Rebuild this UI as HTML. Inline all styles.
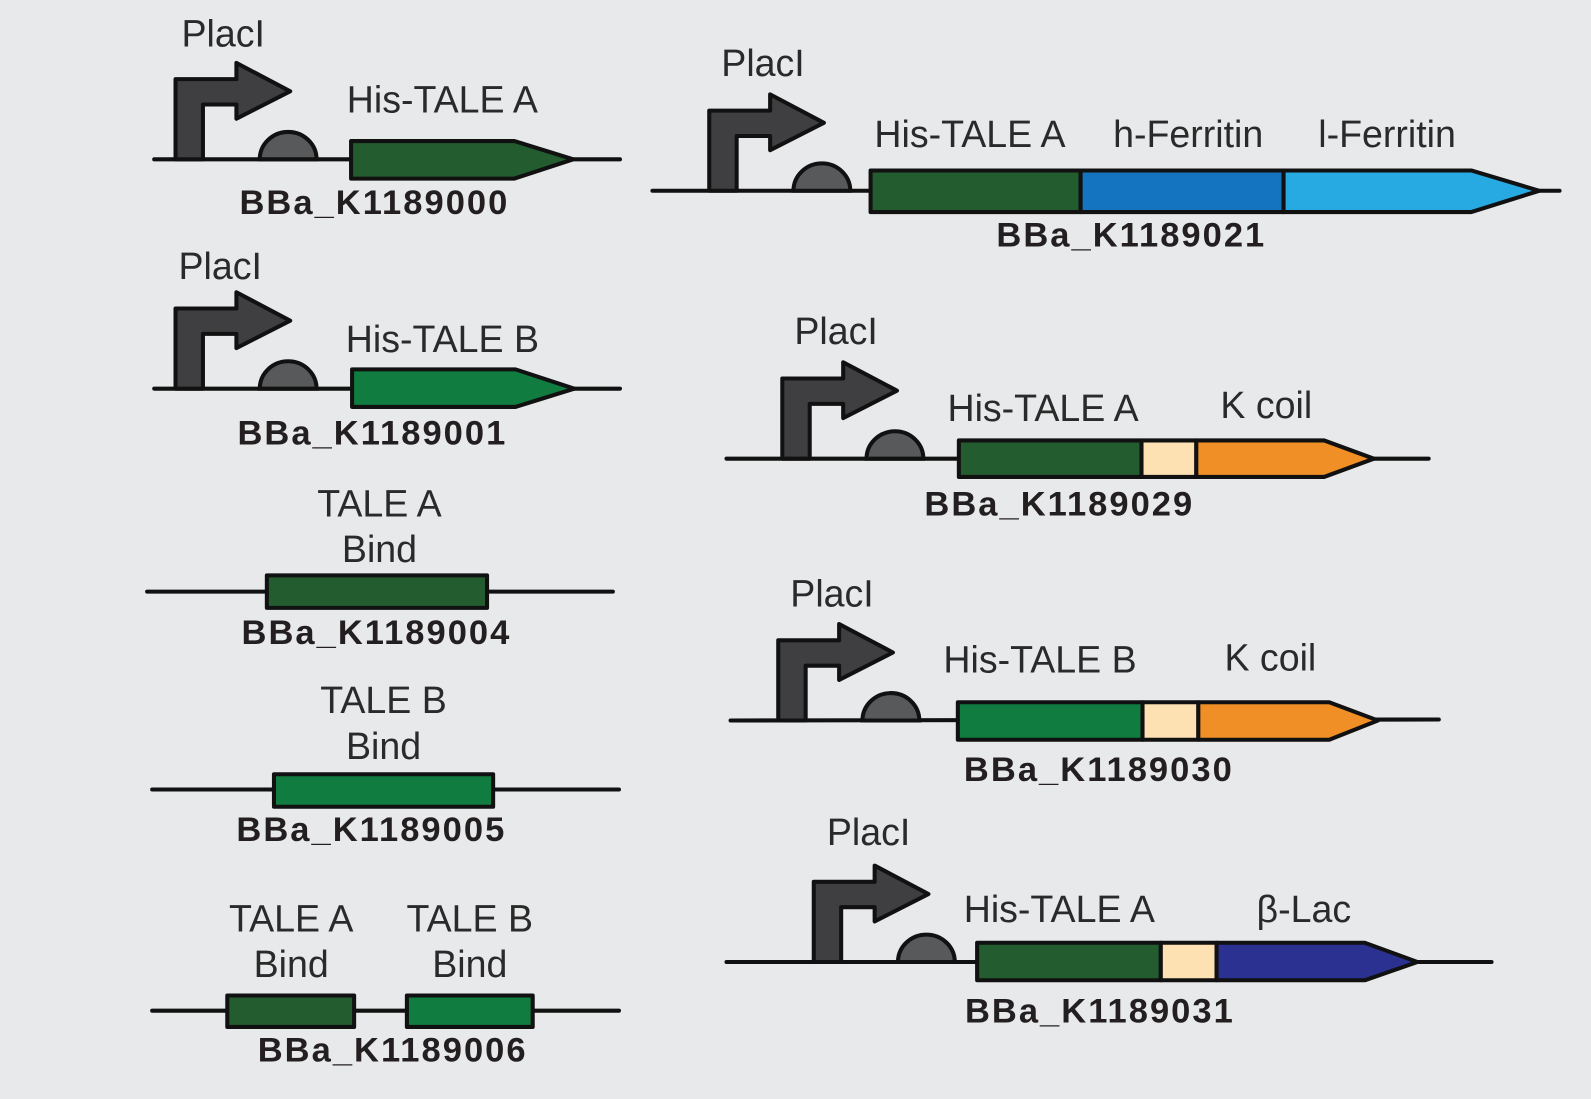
<!DOCTYPE html>
<html><head><meta charset="utf-8"><style>
html,body{margin:0;padding:0;background:#e8e9ea;}
svg{display:block;}
text{font-family:"Liberation Sans",sans-serif;fill:#2a2a2a;dominant-baseline:central;text-anchor:middle;}
.l{font-size:37px;}
.b{font-size:34px;font-weight:bold;fill:#231f20;letter-spacing:2px;}
</style></head><body>
<svg width="1591" height="1099" viewBox="0 0 1568 1083" preserveAspectRatio="none" xmlns="http://www.w3.org/2000/svg">
<defs>
<path id="pro" d="M0,0 V-79 H60 V-95 L113,-67 L60,-40 V-54 H27 V0 Z" fill="#3f3f41" stroke="#111" stroke-width="4" stroke-linejoin="round"/>
<path id="rbs" d="M-28,0 A28,27 0 0 1 28,0 Z" fill="#58595b" stroke="#111" stroke-width="4"/>
</defs>
<rect width="1568" height="1083" fill="#e8e9ea"/>
<g stroke="#111" stroke-width="4" stroke-linejoin="round" stroke-linecap="round">
<line x1="152" y1="157" x2="611" y2="157"/>
<path d="M346,139 H507 L565,157 L507,176 H346 Z" fill="#225c2f"/>
<line x1="152" y1="383" x2="611" y2="383"/>
<path d="M347,364 H508 L566,383 L508,401 H347 Z" fill="#107c3f"/>
<line x1="145" y1="583" x2="604" y2="583"/>
<rect x="263" y="567" width="217" height="32" fill="#225c2f"/>
<line x1="150" y1="778" x2="610" y2="778"/>
<rect x="270" y="763" width="216" height="32" fill="#107c3f"/>
<line x1="150" y1="996" x2="610" y2="996"/>
<rect x="224" y="981" width="125" height="31" fill="#225c2f"/>
<rect x="401" y="981" width="124" height="31" fill="#107c3f"/>
<line x1="643" y1="188" x2="1537" y2="188"/>
<rect x="858" y="168" width="207" height="41" fill="#225c2f"/>
<rect x="1065" y="168" width="200" height="41" fill="#1474bf"/>
<path d="M1265,168 H1450 L1517,188 L1450,209 H1265 Z" fill="#27a9e1"/>
<line x1="716" y1="452" x2="1408" y2="452"/>
<rect x="945" y="434" width="180" height="36" fill="#225c2f"/>
<rect x="1125" y="434" width="54" height="36" fill="#fde1b2"/>
<path d="M1179,434 H1305 L1354,452 L1305,470 H1179 Z" fill="#ef8f25"/>
<line x1="720" y1="710" x2="1418" y2="709"/>
<rect x="944" y="692" width="182" height="37" fill="#107c3f"/>
<rect x="1126" y="692" width="55" height="37" fill="#fde1b2"/>
<path d="M1181,692 H1310 L1358,710 L1310,729 H1181 Z" fill="#ef8f25"/>
<line x1="716" y1="948" x2="1470" y2="948"/>
<rect x="963" y="929" width="181" height="37" fill="#225c2f"/>
<rect x="1144" y="929" width="55" height="37" fill="#fde1b2"/>
<path d="M1199,929 H1345 L1397,948 L1345,966 H1199 Z" fill="#2b3190"/>
</g>
<use href="#pro" x="173" y="157"/><use href="#rbs" x="284" y="157"/>
<use href="#pro" x="173" y="383"/><use href="#rbs" x="284" y="383"/>
<use href="#pro" x="699" y="188"/><use href="#rbs" x="810" y="188"/>
<use href="#pro" x="771" y="452"/><use href="#rbs" x="882" y="452"/>
<use href="#pro" x="767" y="710"/><use href="#rbs" x="878" y="710"/>
<use href="#pro" x="802" y="948"/><use href="#rbs" x="913" y="948"/>

<text class="l" x="220" y="33">PlacI</text>
<text class="l" x="436" y="98">His-TALE A</text>
<text class="b" x="369" y="200">BBa_K1189000</text>

<text class="l" x="217" y="262">PlacI</text>
<text class="l" x="436" y="334">His-TALE B</text>
<text class="b" x="367" y="427">BBa_K1189001</text>

<text class="l" x="374" y="496">TALE A</text>
<text class="l" x="374" y="541">Bind</text>
<text class="b" x="371" y="624">BBa_K1189004</text>

<text class="l" x="378" y="690">TALE B</text>
<text class="l" x="378" y="735">Bind</text>
<text class="b" x="366" y="818">BBa_K1189005</text>

<text class="l" x="287" y="905">TALE A</text>
<text class="l" x="287" y="950">Bind</text>
<text class="l" x="463" y="905">TALE B</text>
<text class="l" x="463" y="950">Bind</text>
<text class="b" x="387" y="1035">BBa_K1189006</text>

<text class="l" x="752" y="62">PlacI</text>
<text class="l" x="956" y="132">His-TALE A</text>
<text class="l" x="1171" y="132">h-Ferritin</text>
<text class="l" x="1367" y="132">l-Ferritin</text>
<text class="b" x="1115" y="232">BBa_K1189021</text>

<text class="l" x="824" y="326">PlacI</text>
<text class="l" x="1028" y="402">His-TALE A</text>
<text class="l" x="1248" y="399">K coil</text>
<text class="b" x="1044" y="497">BBa_K1189029</text>

<text class="l" x="820" y="585">PlacI</text>
<text class="l" x="1025" y="650">His-TALE B</text>
<text class="l" x="1252" y="648">K coil</text>
<text class="b" x="1083" y="759">BBa_K1189030</text>

<text class="l" x="856" y="820">PlacI</text>
<text class="l" x="1044" y="896">His-TALE A</text>
<text class="l" x="1285" y="896">β-Lac</text>
<text class="b" x="1084" y="997">BBa_K1189031</text>
</svg>
</body></html>
